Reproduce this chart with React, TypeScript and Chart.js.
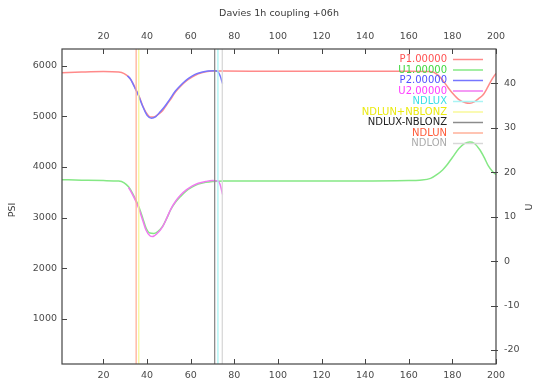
import React, { useEffect, useRef } from 'react';
import { Chart, registerables } from 'chart.js';

Chart.register(...registerables);

const TITLE = 'Davies 1h coupling +06h';
const LEFT_TITLE = 'PSI';
const RIGHT_TITLE = 'U';

const xTicks = [20, 40, 60, 80, 100, 120, 140, 160, 180, 200];
const psiTicks = [1000, 2000, 3000, 4000, 5000, 6000];
const uTicks = [-20, -10, 0, 10, 20, 30, 40];

const X_MIN = 1;
const X_MAX = 200;
const PSI_MIN = 110;
const PSI_MAX = 6330;
const U_MIN = -23.15;
const U_MAX = 47.7;

// P1.00000 (left axis)
const p1X = [1, 10, 20, 27, 29.5, 31.5, 33.3, 35, 36.4, 38, 39.5, 41.3, 43, 44.8, 47.1, 49, 50.9, 53, 55.5, 58, 60.8, 63.5, 66.9, 70, 75, 100, 130, 160, 170, 173, 176, 178, 180, 183, 186, 188, 190, 192, 194, 196, 198, 200];
const p1Y = [5860, 5875, 5885, 5875, 5845, 5780, 5670, 5520, 5390, 5210, 5080, 4990, 4985, 5030, 5110, 5230, 5340, 5480, 5600, 5700, 5780, 5840, 5880, 5895, 5895, 5890, 5890, 5890, 5885, 5830, 5690, 5570, 5460, 5330, 5270, 5260, 5285, 5350, 5420, 5560, 5720, 5850];

// U1.00000 (right axis)
const u1X = [1, 10, 20, 27, 29.5, 31.5, 33.3, 35, 36.4, 38, 39.5, 41.3, 43, 44.8, 47.1, 49, 50.9, 53, 55.5, 58, 60.8, 63.5, 66.9, 70, 75, 100, 130, 160, 165, 170, 173, 175.5, 177.5, 180, 183, 185.5, 188, 190, 192.5, 194.5, 196.5, 198.5, 200];
const u1Y = [18.3, 18.2, 18.1, 18.0, 17.6, 16.7, 15.3, 13.6, 12.0, 9.7, 7.5, 6.3, 6.2, 6.6, 7.8, 9.6, 11.6, 13.2, 14.6, 15.8, 16.7, 17.3, 17.7, 17.9, 18.0, 18.0, 18.0, 18.1, 18.2, 18.6, 19.5, 20.5, 21.6, 23.3, 25.3, 26.4, 26.8, 26.5, 25.1, 23.4, 21.4, 20.1, 19.5];

// P2.00000 (left axis)
const p2X = [31, 32.5, 34, 36, 38, 40, 42, 44, 46, 48, 50, 53, 56, 59, 62, 65, 68, 71, 72.5, 73.5, 74.6];
const p2Y = [5800, 5730, 5600, 5420, 5200, 5020, 4965, 4995, 5090, 5190, 5310, 5500, 5640, 5750, 5830, 5870, 5895, 5900, 5880, 5800, 5650];

// U2.00000 (right axis)
const u2X = [31.5, 33.3, 35, 36.4, 38, 39.5, 41.3, 42.5, 44.8, 47.1, 49, 50.9, 53, 55.5, 58, 60.8, 63.5, 66.9, 70, 72.5, 73.5, 74.6];
const u2Y = [16.6, 15.0, 13.3, 11.6, 9.2, 7.0, 5.7, 5.5, 6.3, 7.7, 9.6, 11.7, 13.4, 14.9, 16.0, 16.9, 17.5, 17.9, 18.1, 18.0, 17.2, 15.0];

// vertical markers (x positions)
const NDLUX = 72.5;
const NDLUN_NBLONZ = 36.2;
const NDLUX_NBLONZ = 71.0;
const NDLUN = 35.0;
const NDLON = 74.5;

const FONT = '"DejaVu Sans", "Liberation Sans", Arial, sans-serif';

type Entry = { label: string; text: string; line: string };
const legendEntries: Entry[] = [
  { label: 'P1.00000', text: '#ff5252', line: '#ff8a8a' },
  { label: 'U1.00000', text: '#40d840', line: '#85e885' },
  { label: 'P2.00000', text: '#5050ff', line: '#7676ff' },
  { label: 'U2.00000', text: '#ff3cff', line: '#f07af0' },
  { label: 'NDLUX', text: '#3ae0e8', line: '#aaf4f4' },
  { label: 'NDLUN+NBLONZ', text: '#eaea10', line: '#f8f89a' },
  { label: 'NDLUX-NBLONZ', text: '#222222', line: '#8c8c8c' },
  { label: 'NDLUN', text: '#ff5a38', line: '#ffb09a' },
  { label: 'NDLON', text: '#ababab', line: '#d8d8d8' },
];

const pts = (xs: number[], ys: number[]) => xs.map((x, i) => ({ x, y: ys[i] }));
const vline = (x: number) => [{ x, y: PSI_MIN }, { x, y: PSI_MAX }];

const framePlugin = {
  id: 'gnuFrame',
  afterDraw(chart: any) {
    const { ctx, chartArea: a, scales } = chart;
    ctx.save();
    ctx.strokeStyle = '#444';
    ctx.lineWidth = 1.2;
    ctx.strokeRect(a.left, a.top, a.right - a.left, a.bottom - a.top);
    ctx.lineWidth = 1;
    ctx.beginPath();
    xTicks.forEach((v) => {
      const px = Math.round(scales.x.getPixelForValue(v)) + 0.5;
      ctx.moveTo(px, a.bottom);
      ctx.lineTo(px, a.bottom - 5);
      ctx.moveTo(px, a.top);
      ctx.lineTo(px, a.top + 5);
    });
    psiTicks.forEach((v) => {
      const py = Math.round(scales.y.getPixelForValue(v)) + 0.5;
      ctx.moveTo(a.left, py);
      ctx.lineTo(a.left + 5, py);
    });
    uTicks.forEach((v) => {
      const py = Math.round(scales.y2.getPixelForValue(v)) + 0.5;
      ctx.moveTo(a.right + 2, py);
      ctx.lineTo(a.right - 5, py);
    });
    ctx.stroke();

    ctx.fillStyle = '#383838';
    ctx.font = '9.5px ' + FONT;
    ctx.textAlign = 'center';
    ctx.textBaseline = 'middle';
    ctx.fillText(TITLE, (a.left + a.right) / 2, 14);

    ctx.save();
    ctx.translate(13, 210);
    ctx.rotate(-Math.PI / 2);
    ctx.fillText(LEFT_TITLE, 0, 0);
    ctx.restore();
    ctx.save();
    ctx.translate(530, 207);
    ctx.rotate(-Math.PI / 2);
    ctx.fillText(RIGHT_TITLE, 0, 0);
    ctx.restore();

    ctx.font = '10px ' + FONT;
    ctx.textAlign = 'right';
    legendEntries.forEach((e, i) => {
      const y = 59.5 + i * 10.5;
      ctx.fillStyle = e.text;
      ctx.fillText(e.label, 447, y);
      ctx.strokeStyle = e.line;
      ctx.lineWidth = 1.5;
      ctx.beginPath();
      ctx.moveTo(453, y);
      ctx.lineTo(483, y);
      ctx.stroke();
    });
    ctx.restore();
  },
};

const tickFont = { family: FONT, size: 9.5 };
const tickColor = '#4a4a4a';

export default function App() {
  const ref = useRef<HTMLCanvasElement>(null);

  useEffect(() => {
    if (!ref.current) return;
    const mk = (label: string, data: any, color: string, axis: string, idx: number, width = 1.5) => ({
      label,
      data,
      borderColor: color,
      backgroundColor: color,
      borderWidth: width,
      pointRadius: 0,
      fill: false,
      yAxisID: axis,
      cubicInterpolationMode: 'monotone' as const,
      order: 20 - idx,
    });
    const chart = new Chart(ref.current, {
      type: 'line',
      data: {
        datasets: [
          mk('P1.00000', pts(p1X, p1Y), legendEntries[0].line, 'y', 0),
          mk('U1.00000', pts(u1X, u1Y), legendEntries[1].line, 'y2', 1),
          mk('P2.00000', pts(p2X, p2Y), legendEntries[2].line, 'y', 2),
          mk('U2.00000', pts(u2X, u2Y), legendEntries[3].line, 'y2', 3),
          mk('NDLUX', vline(NDLUX), legendEntries[4].line, 'y', 4, 1.3),
          mk('NDLUN+NBLONZ', vline(NDLUN_NBLONZ), legendEntries[5].line, 'y', 5, 1.3),
          mk('NDLUX-NBLONZ', vline(NDLUX_NBLONZ), legendEntries[6].line, 'y', 6, 1.3),
          mk('NDLUN', vline(NDLUN), legendEntries[7].line, 'y', 7, 1.3),
          mk('NDLON', vline(NDLON), legendEntries[8].line, 'y', 8, 1.3),
        ],
      },
      options: {
        responsive: false,
        animation: false,
        layout: { padding: 0 },
        plugins: { legend: { display: false }, title: { display: false }, tooltip: { enabled: false } },
        scales: {
          x: {
            type: 'linear',
            position: 'bottom',
            min: X_MIN,
            max: X_MAX,
            afterFit: (s: any) => { s.height = 19; },
            afterBuildTicks: (s: any) => { s.ticks = xTicks.map((v) => ({ value: v })); },
            ticks: { font: tickFont, color: tickColor, padding: 6, maxRotation: 0, autoSkip: false, callback: (v: any) => String(v) },
            grid: { display: false, drawTicks: false },
            border: { display: false },
          },
          x2: {
            type: 'linear',
            position: 'top',
            min: X_MIN,
            max: X_MAX,
            afterFit: (s: any) => { s.height = 49; },
            afterBuildTicks: (s: any) => { s.ticks = xTicks.map((v) => ({ value: v })); },
            ticks: { font: tickFont, color: tickColor, padding: 7, maxRotation: 0, autoSkip: false, callback: (v: any) => String(v) },
            grid: { display: false, drawTicks: false },
            border: { display: false },
          },
          y: {
            type: 'linear',
            position: 'left',
            min: PSI_MIN,
            max: PSI_MAX,
            afterFit: (s: any) => { s.width = 62; },
            afterBuildTicks: (s: any) => { s.ticks = psiTicks.map((v) => ({ value: v })); },
            ticks: { font: tickFont, color: tickColor, padding: 5, autoSkip: false, callback: (v: any) => String(v) },
            grid: { display: false, drawTicks: false },
            border: { display: false },
          },
          y2: {
            type: 'linear',
            position: 'right',
            min: U_MIN,
            max: U_MAX,
            afterFit: (s: any) => { s.width = 41; },
            afterBuildTicks: (s: any) => { s.ticks = uTicks.map((v) => ({ value: v })); },
            ticks: { font: tickFont, color: tickColor, padding: 8, autoSkip: false, callback: (v: any) => String(v) },
            grid: { display: false, drawTicks: false },
            border: { display: false },
          },
        },
      },
      plugins: [framePlugin],
    });
    return () => chart.destroy();
  }, []);

  return (
    <div style={{ position: 'absolute', left: 0, top: 0, width: 537, height: 383, background: '#fff' }}>
      <canvas ref={ref} width={537} height={383} style={{ display: 'block', width: 537, height: 383 }} />
    </div>
  );
}
